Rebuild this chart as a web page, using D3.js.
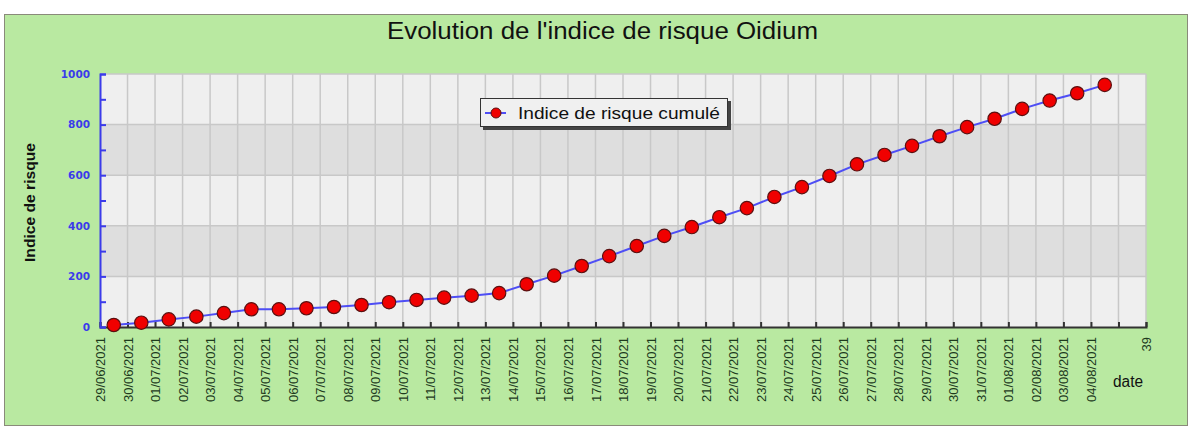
<!DOCTYPE html>
<html><head><meta charset="utf-8">
<script src="https://cdn.jsdelivr.net/npm/d3@7"></script>
<style>body{margin:0;background:#fff;} svg{display:block;}</style>
</head><body>
<svg id="c" width="1192" height="429"></svg>
<script>
const dates = ["29/06/2021","30/06/2021","01/07/2021","02/07/2021","03/07/2021","04/07/2021","05/07/2021","06/07/2021","07/07/2021","08/07/2021","09/07/2021","10/07/2021","11/07/2021","12/07/2021","13/07/2021","14/07/2021","15/07/2021","16/07/2021","17/07/2021","18/07/2021","19/07/2021","20/07/2021","21/07/2021","22/07/2021","23/07/2021","24/07/2021","25/07/2021","26/07/2021","27/07/2021","28/07/2021","29/07/2021","30/07/2021","31/07/2021","01/08/2021","02/08/2021","03/08/2021","04/08/2021"];
const values = [8,17,30,41,55,70,70,74,79,87,98,107,116,124,134,169,203,241,280,320,360,395,434,470,514,553,597,643,680,716,754,790,823,862,895,924,957];
const yTicks = [0,200,400,600,800,1000];
const xEndLabel = "39";
const title = "Evolution de l'indice de risque Oidium";
const yTitle = "Indice de risque";
const xTitle = "date";
const legendLabel = "Indice de risque cumulé";

const svg = d3.select("#c");
const L = 100, R = 1146, T = 74, B = 327;
const sans = "Liberation Sans, Arial, sans-serif";
// background panel
svg.append("rect").attr("x",4.5).attr("y",14.5).attr("width",1183).attr("height",411)
  .attr("fill","#b9e9a1").attr("stroke","#8a8a7a").attr("stroke-width",1);

const x = d3.scaleLinear().domain([1,39]).range([L,R]);
const y = d3.scaleLinear().domain([0,1000]).range([B,T]);

// bands
const bands = d3.range(0,1000,200);
svg.append("g").selectAll("rect").data(bands).join("rect")
  .attr("x",L).attr("width",R-L)
  .attr("y",d=>y(d+200)).attr("height",d=>y(d)-y(d+200))
  .attr("fill",(d,i)=>i%2===0?"#efefef":"#dedede");

// grid
const g = svg.append("g").attr("stroke","#c8c8c8").attr("stroke-width",1.5);
g.selectAll("line.v").data(d3.range(2,40)).join("line")
  .attr("x1",d=>x(d)).attr("x2",d=>x(d)).attr("y1",T).attr("y2",B);
g.selectAll("line.h").data(yTicks.slice(1)).join("line")
  .attr("x1",L).attr("x2",R).attr("y1",d=>y(d)).attr("y2",d=>y(d));

// x axis
const xAxis = d3.axisBottom(x).tickValues(d3.range(1,40)).tickSize(-5)
  .tickFormat(d => d<=dates.length ? dates[d-1] : (d===39 ? xEndLabel : ""));
const xg = svg.append("g").attr("transform",`translate(0,${B})`).call(xAxis);
xg.select(".domain").attr("stroke","#333").attr("stroke-width",2);
xg.selectAll(".tick line").attr("stroke","#333").attr("stroke-width",2);
xg.selectAll(".tick text")
  .attr("transform","rotate(-90)")
  .attr("text-anchor","end")
  .attr("x",-10).attr("y",0).attr("dy","0.35em")
  .attr("font-family",sans)
  .attr("font-size",13).attr("fill","#1d3a1d");

// y axis
const yAxis = d3.axisLeft(y).tickValues(d3.range(0,1001,100)).tickSize(-6)
  .tickFormat(d => d%200===0 ? d : "");
const yg = svg.append("g").attr("transform",`translate(${L},0)`).call(yAxis);
yg.select(".domain").attr("stroke","#3b3bea").attr("stroke-width",2);
yg.selectAll(".tick text").attr("x",-10)
  .attr("font-family","DejaVu Sans, Verdana, sans-serif")
  .attr("font-size",10.5).attr("font-weight","bold").attr("fill","#3b3bea");
yg.selectAll(".tick line").attr("stroke","#3b3bea").attr("stroke-width",2);

// line
const px = (d,i)=>x(i+1.5);
svg.append("path").datum(values)
  .attr("d", d3.line().x(px).y(d=>y(d)))
  .attr("fill","none").attr("stroke","#4e4ef5").attr("stroke-width",2);
svg.append("g").selectAll("circle").data(values).join("circle")
  .attr("cx",px).attr("cy",d=>y(d)).attr("r",6.7)
  .attr("fill","#f00000").attr("stroke","#5a1010").attr("stroke-width",1.2);

// titles
svg.append("text").attr("x",387).attr("y",39)
  .attr("font-family",sans).attr("font-size",23.5)
  .attr("textLength",431).attr("lengthAdjust","spacingAndGlyphs")
  .attr("fill","#111").text(title);
svg.append("text").attr("transform","translate(35,262) rotate(-90)")
  .attr("font-family",sans).attr("font-size",14.5)
  .attr("textLength",119).attr("lengthAdjust","spacingAndGlyphs")
  .attr("font-weight","bold").attr("fill","#111").text(yTitle);
svg.append("text").attr("x",1113).attr("y",387)
  .attr("font-family",sans).attr("font-size",16)
  .attr("textLength",30).attr("lengthAdjust","spacingAndGlyphs")
  .attr("fill","#111").text(xTitle);

// legend
const lg = svg.append("g");
lg.append("rect").attr("x",483).attr("y",101).attr("width",248).attr("height",29).attr("fill","#444");
lg.append("rect").attr("x",480.5).attr("y",98.5).attr("width",247).attr("height",28)
  .attr("fill","#f0f0f0").attr("stroke","#333").attr("stroke-width",1);
lg.append("line").attr("x1",485).attr("x2",506).attr("y1",113).attr("y2",113)
  .attr("stroke","#4e4ef5").attr("stroke-width",2);
lg.append("circle").attr("cx",496).attr("cy",113).attr("r",5)
  .attr("fill","#f00000").attr("stroke","#5a1010").attr("stroke-width",1);
lg.append("text").attr("x",518).attr("y",119)
  .attr("font-family",sans).attr("font-size",17)
  .attr("textLength",202).attr("lengthAdjust","spacingAndGlyphs")
  .attr("fill","#111").text(legendLabel);
</script>
</body></html>
